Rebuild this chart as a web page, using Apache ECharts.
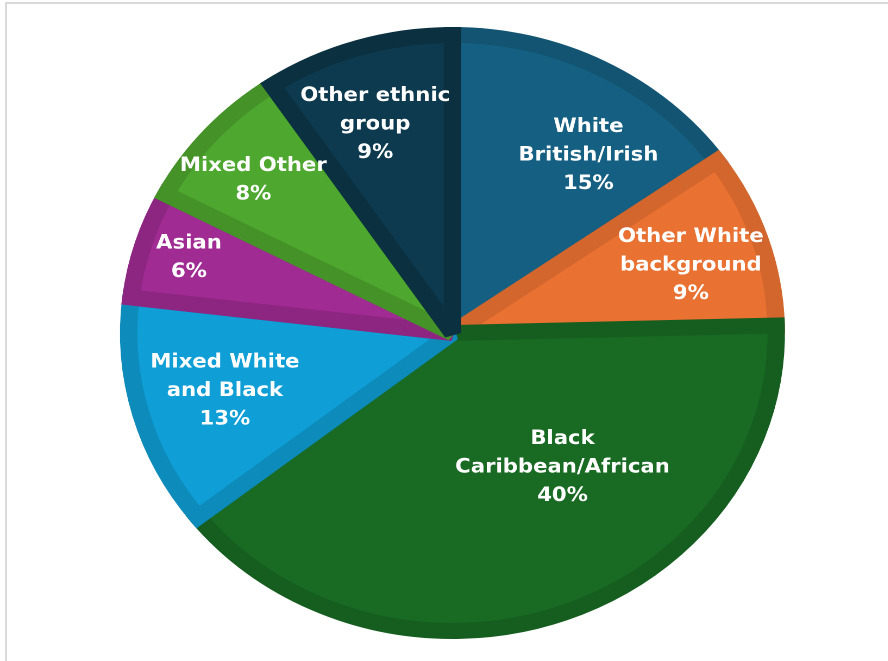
<!DOCTYPE html>
<html>
<head>
<meta charset="utf-8">
<script src="https://cdn.jsdelivr.net/npm/echarts@6/dist/echarts.min.js"></script>
<style>
html,body{margin:0;padding:0;background:#fff;width:888px;height:661px;overflow:hidden;}
#frame{position:absolute;left:5px;top:2px;width:1000px;height:1000px;border-left:2px solid #d9d9d9;border-top:2px solid #d9d9d9;}
#chart{position:absolute;left:0;top:0;width:817px;height:661px;transform:scaleX(1.0866);transform-origin:0 0;}
</style>
</head>
<body>
<div id="frame"></div>
<div id="chart"></div>
<script>
// ---- data ----
const categories = ['White\nBritish/Irish', 'Other White\nbackground', 'Black\nCaribbean/African', 'Mixed White\nand Black', 'Asian', 'Mixed Other', 'Other ethnic\ngroup'];
const values = [15.2, 9.4, 39.8, 12.5, 5.8, 7.9, 9.4];

// ---- styles ----
const fillColors = ['#156082', '#E97132', '#196B24', '#0F9ED5', '#A02B93', '#4EA72E', '#0D3A4E'];
const edgeColors = ['#125472', '#D2662D', '#165E20', '#0D8BBB', '#8D2681', '#459328', '#0B3040'];
// label placement: [angle shift in degrees, fraction of radius]
const labelPlacement = [[7.8, 0.71], [1.3, 0.75], [-17.2, 0.55], [0.2, 0.71], [0, 0.83], [-2.1, 0.78], [-1.9, 0.72]];

const CX = 416.4, CY = 333, R = 306, BW = 16;
const total = values.reduce((a, b) => a + b, 0);

const chart = echarts.init(document.getElementById('chart'), null, {renderer: 'canvas', devicePixelRatio: 2});
chart.setOption({
  animation: false,
  backgroundColor: 'transparent',
  series: [{
    type: 'pie',
    center: [CX, CY],
    radius: [0, R - BW / 2],
    startAngle: 90,
    clockwise: true,
    avoidLabelOverlap: false,
    emphasis: {disabled: true},
    data: categories.map((name, i) => ({
      name: name,
      value: values[i],
      itemStyle: {color: fillColors[i], borderColor: edgeColors[i], borderWidth: BW, borderJoin: 'miter', borderMiterLimit: 2}
    })),
    label: {
      show: true,
      position: 'inside',
      color: '#ffffff',
      fontFamily: 'DejaVu Sans',
      fontWeight: 'bold',
      fontSize: 19.5,
      lineHeight: 28.5,
      align: 'center',
      formatter: p => p.name + '\n' + Math.round(p.percent) + '%'
    },
    labelLine: {show: false},
    labelLayout: function (params) {
      const i = params.dataIndex;
      let start = 0;
      for (let k = 0; k < i; k++) start += values[k];
      const mid = (start + values[i] / 2) / total * 360 + labelPlacement[i][0];
      const a = mid * Math.PI / 180;
      const r = labelPlacement[i][1] * R;
      return {x: CX + r * Math.sin(a), y: CY - r * Math.cos(a), align: 'center', verticalAlign: 'middle'};
    }
  }]
});
</script>
</body>
</html>
